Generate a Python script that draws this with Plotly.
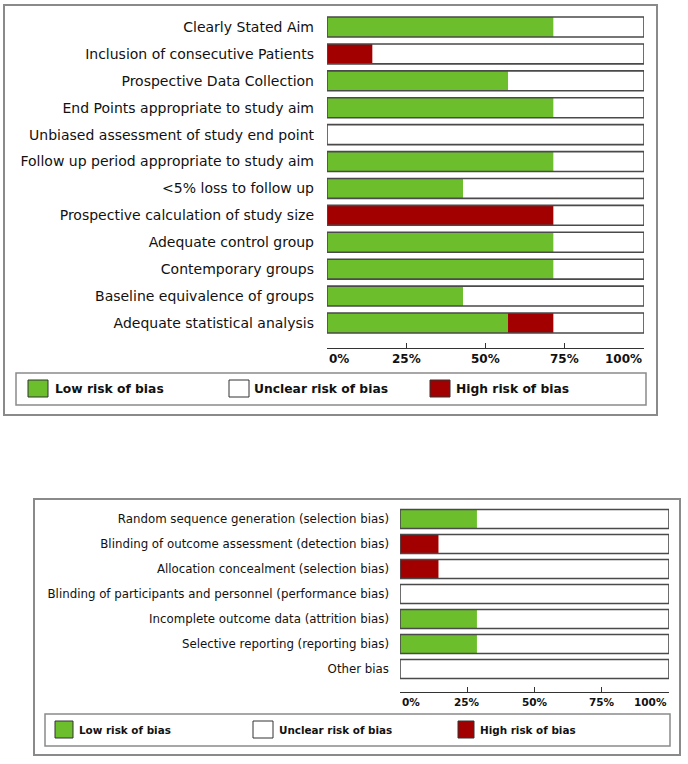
import plotly.graph_objects as go

# ---------------- data ----------------
top_categories = [
    "Clearly Stated Aim",
    "Inclusion of consecutive Patients",
    "Prospective Data Collection",
    "End Points appropriate to study aim",
    "Unbiased assessment of study end point",
    "Follow up period appropriate to study aim",
    "&lt;5% loss to follow up",
    "Prospective calculation of study size",
    "Adequate control group",
    "Contemporary groups",
    "Baseline equivalence of groups",
    "Adequate statistical analysis",
]
top_low = [71.4, 0, 57.1, 71.4, 0, 71.4, 42.9, 0, 71.4, 71.4, 42.9, 57.1]
top_high = [0, 14.3, 0, 0, 0, 0, 0, 71.4, 0, 0, 0, 14.3]
top_unclear = [28.6, 85.7, 42.9, 28.6, 100, 28.6, 57.1, 28.6, 28.6, 28.6, 57.1, 28.6]

bot_categories = [
    "Random sequence generation (selection bias)",
    "Blinding of outcome assessment (detection bias)",
    "Allocation concealment (selection bias)",
    "Blinding of participants and personnel (performance bias)",
    "Incomplete outcome data (attrition bias)",
    "Selective reporting (reporting bias)",
    "Other bias",
]
bot_low = [28.6, 0, 0, 0, 28.6, 28.6, 0]
bot_high = [0, 14.3, 14.3, 0, 0, 0, 0]
bot_unclear = [71.4, 85.7, 85.7, 100, 71.4, 71.4, 100]

tick_vals = [0, 25, 50, 75, 100]
tick_text = ["0%", "25%", "50%", "75%", "100%"]
legend_labels = ["Low risk of bias", "Unclear risk of bias", "High risk of bias"]

# ---------------- style ----------------
W, H = 688, 764
GREEN = "#6CBE2D"
RED = "#A20000"
WHITE = "#FFFFFF"
OUTLINE = "#4a4a4a"
BOX = "#8a8a8a"
FONT = "DejaVu Sans"


def X(px):
    return px / W


def Y(py):
    return 1 - py / H


fig = go.Figure()


def add_chart(cats, low, high, unclear, xa, ya, barw):
    base_high = [l for l in low]
    base_unc = [l + h for l, h in zip(low, high)]
    total = [l + h + u for l, h, u in zip(low, high, unclear)]
    common = dict(orientation="h", y=cats, width=barw, xaxis=xa, yaxis=ya,
                  showlegend=False, hoverinfo="skip")
    fig.add_trace(go.Bar(x=unclear, base=base_unc, marker=dict(color=WHITE, line=dict(width=0)), **common))
    fig.add_trace(go.Bar(x=low, base=[0] * len(low), marker=dict(color=GREEN, line=dict(width=0)), **common))
    fig.add_trace(go.Bar(x=high, base=base_high, marker=dict(color=RED, line=dict(width=0)), **common))
    fig.add_trace(go.Bar(x=total, base=[0] * len(total),
                         marker=dict(color="rgba(0,0,0,0)", line=dict(color=OUTLINE, width=1.6)), **common))


add_chart(top_categories, top_low, top_high, top_unclear, "x", "y", 0.74)
add_chart(bot_categories, bot_low, bot_high, bot_unclear, "x2", "y2", 0.76)

xcommon = dict(range=[0, 100], showgrid=False, zeroline=False, showline=True,
               linecolor="#333", linewidth=1, ticks="inside", ticklen=5,
               tickcolor="#333", tickvals=tick_vals, showticklabels=False,
               fixedrange=True)
ycommon = dict(type="category", showgrid=False, zeroline=False, showline=False,
               ticks="", autorange=False, fixedrange=True)

fig.update_layout(
    width=W, height=H,
    margin=dict(l=0, r=0, t=0, b=0, pad=0),
    paper_bgcolor="white", plot_bgcolor="white",
    barmode="overlay",
    xaxis=dict(domain=[X(327), X(644)], anchor="y", **xcommon),
    yaxis=dict(domain=[Y(348), Y(13.55)], anchor="x", range=[11.93, -0.5],
               categoryorder="array", categoryarray=top_categories,
               tickfont=dict(family=FONT, size=14, color="#111"),
               ticklabelstandoff=12, **ycommon),
    xaxis2=dict(domain=[X(400), X(669)], anchor="y2", **xcommon),
    yaxis2=dict(domain=[Y(692), Y(506.5)], anchor="x2", range=[6.92, -0.5],
                categoryorder="array", categoryarray=bot_categories,
                tickfont=dict(family=FONT, size=11.8, color="#111"),
                ticklabelstandoff=10, **ycommon),
)

shapes = []
annotations = []

# tick labels (first left-aligned, last right-aligned)
for xref, ty, fsize in [("x", 359, 12), ("x2", 702, 10.5)]:
    for i, (v, t) in enumerate(zip(tick_vals, tick_text)):
        anchor = "left" if i == 0 else ("right" if i == len(tick_vals) - 1 else "center")
        annotations.append(dict(x=v, y=Y(ty), xref=xref, yref="paper", text="<b>" + t + "</b>",
                                showarrow=False, xanchor=anchor, yanchor="middle",
                                font=dict(family=FONT, size=fsize, color="#111")))

# outer boxes
for x0, y0, x1, y1 in [(4, 5, 657, 415), (34, 499, 680, 755)]:
    shapes.append(dict(type="rect", xref="paper", yref="paper", x0=X(x0), x1=X(x1),
                       y0=Y(y1), y1=Y(y0), line=dict(color=BOX, width=2), fillcolor="rgba(0,0,0,0)"))

# legend boxes
legend_specs = [
    dict(box=(16, 373, 646, 405), sq=[(28, 48), (229, 249), (430, 450)], sy=(380, 397),
         tx=[53, 252, 454], ty=389, fs=12.3),
    dict(box=(45, 714, 670, 746), sq=[(55, 73), (253, 273), (458, 474)], sy=(721, 738),
         tx=[77, 277, 478], ty=730, fs=10.4),
]
legend_colors = [GREEN, WHITE, RED]
for spec in legend_specs:
    x0, y0, x1, y1 = spec["box"]
    shapes.append(dict(type="rect", xref="paper", yref="paper", x0=X(x0), x1=X(x1),
                       y0=Y(y1), y1=Y(y0), line=dict(color=BOX, width=1.5), fillcolor="rgba(0,0,0,0)"))
    for (sx0, sx1), col, tx, lab in zip(spec["sq"], legend_colors, spec["tx"], legend_labels):
        shapes.append(dict(type="rect", xref="paper", yref="paper", x0=X(sx0), x1=X(sx1),
                           y0=Y(spec["sy"][1]), y1=Y(spec["sy"][0]),
                           line=dict(color="#333", width=1), fillcolor=col))
        annotations.append(dict(x=X(tx), y=Y(spec["ty"]), xref="paper", yref="paper",
                                text="<b>" + lab + "</b>", showarrow=False,
                                xanchor="left", yanchor="middle",
                                font=dict(family=FONT, size=spec["fs"], color="#111")))

fig.update_layout(shapes=shapes, annotations=annotations)
fig.write_html("out.html", config={"displayModeBar": False},
               post_script="document.body.style.margin='0';")
